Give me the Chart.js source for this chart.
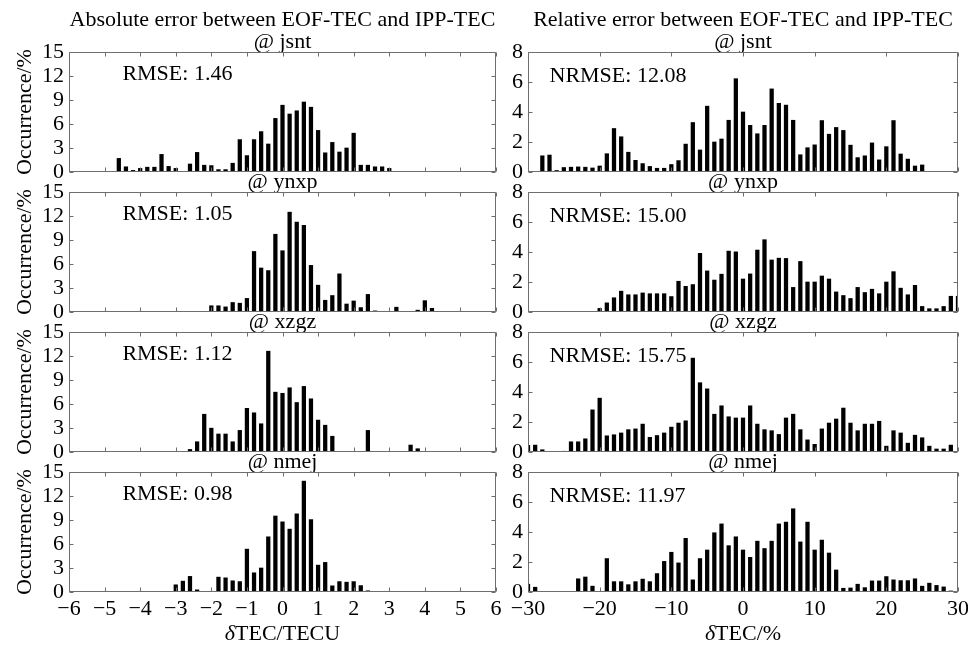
<!DOCTYPE html>
<html>
<head>
<meta charset="utf-8">
<script src="https://cdn.jsdelivr.net/npm/chart.js@4.4.1/dist/chart.umd.min.js"></script>
<style>
html,body{margin:0;padding:0;background:#fff;}
#wrap{position:relative;width:968px;height:650px;overflow:hidden;font-family:"Liberation Serif","Times New Roman",serif;color:#000;}
#wrap canvas{position:absolute;left:0;top:0;}
.lbl{position:absolute;white-space:nowrap;font-size:22px;line-height:24px;transform:translateX(-50%);}
</style>
</head>
<body>
<div id="wrap">
  <div class="lbl" style="left:282.5px;top:7px">Absolute error between EOF-TEC and IPP-TEC</div>
  <div class="lbl" style="left:743px;top:7px">Relative error between EOF-TEC and IPP-TEC</div>
  <div class="lbl" style="left:282.5px;top:621px"><i>δ</i>TEC/TECU</div>
  <div class="lbl" style="left:743px;top:621px"><i>δ</i>TEC/%</div>
</div>
<script>
// ---------- data ----------
const stations = ['jsnt', 'ynxp', 'xzgz', 'nmej'];
const rmseText = ['RMSE: 1.46', 'RMSE: 1.05', 'RMSE: 1.12', 'RMSE: 0.98'];
const nrmseText = ['NRMSE: 12.08', 'NRMSE: 15.00', 'NRMSE: 15.75', 'NRMSE: 11.97'];

// bin centres, absolute error (TECU)
const absBins = [-6,-5.8,-5.6,-5.4,-5.2,-5,-4.8,-4.6,-4.4,-4.2,
                 -4,-3.8,-3.6,-3.4,-3.2,-3,-2.8,-2.6,-2.4,-2.2,
                 -2,-1.8,-1.6,-1.4,-1.2,-1,-0.8,-0.6,-0.4,-0.2,
                 0,0.2,0.4,0.6,0.8,1,1.2,1.4,1.6,1.8,
                 2,2.2,2.4,2.6,2.8,3,3.2,3.4,3.6,3.8,
                 4,4.2,4.4,4.6,4.8,5,5.2,5.4,5.6,5.8,
                 6];
// bin centres, relative error (%)
const relBins = [-30,-29,-28,-27,-26,-25,-24,-23,-22,-21,
                 -20,-19,-18,-17,-16,-15,-14,-13,-12,-11,
                 -10,-9,-8,-7,-6,-5,-4,-3,-2,-1,
                 0,1,2,3,4,5,6,7,8,9,
                 10,11,12,13,14,15,16,17,18,19,
                 20,21,22,23,24,25,26,27,28,29,
                 30];

const jsntAbs = [0,0,0,0,0,0,0,1.7,0.65,0.2,
                 0.45,0.6,0.6,2.2,0.7,0.45,0,1.0,2.45,0.85,
                 0.8,0.3,0.3,1.1,4.05,2.05,4.05,5.05,3.5,6.7,
                 8.35,7.25,7.65,8.75,8.1,5.2,2.4,3.7,2.5,3.0,
                 4.85,0.85,0.85,0.65,0.65,0.45,0,0,0,0,
                 0,0,0,0,0,0,0,0,0,0,
                 0];
const ynxpAbs = [0,0,0,0,0,0,0,0,0,0,
                 0,0,0,0,0,0,0,0,0,0,
                 0.78,0.78,0.64,1.19,1.1,1.7,7.57,5.5,5.18,9.72,
                 7.66,12.48,11.24,10.83,5.83,3.35,1.47,2.06,4.77,1.0,
                 1.38,0.55,2.2,0.14,0,0,0.6,0,0,0.23,
                 1.42,0.46,0,0,0,0,0,0,0,0,
                 0];
const xzgzAbs = [0,0,0,0,0,0,0,0,0,0,
                 0,0,0,0,0,0,0,0.32,1.28,4.72,
                 2.98,2.25,2.25,1.28,2.7,5.46,4.9,3.53,12.6,7.48,
                 7.34,8.03,6.19,8.2,6.65,3.99,3.35,1.97,0,0,
                 0,0,2.7,0,0,0,0,0,0.87,0.41,
                 0,0,0,0,0,0,0,0,0,0,
                 0];
const nmejAbs = [0,0,0,0,0,0,0,0,0,0,
                 0,0,0,0,0,0.9,1.36,1.95,0.27,0,
                 0,1.86,1.77,1.4,1.3,5.36,2.4,3.0,6.9,9.5,
                 8.77,7.86,9.77,13.86,9.05,3.36,3.7,0.77,1.3,1.23,
                 1.3,0.8,0.15,0,0,0,0,0,0,0,
                 0,0,0,0,0,0,0,0,0,0,
                 0];

const jsntRel = [0,0,1.08,1.13,0.1,0.3,0.32,0.34,0.32,0.27,
                 0.4,1.22,2.9,2.35,1.32,0.78,0.56,0.37,0.25,0.25,
                 0.5,0.76,1.86,3.3,1.47,4.39,2.0,2.2,3.45,6.22,
                 4.0,3.11,2.55,3.11,5.54,4.58,4.46,3.45,1.15,1.62,
                 1.81,3.43,2.52,2.97,2.77,1.79,0.96,1.08,1.94,0.81,
                 1.69,3.43,1.2,0.86,0.4,0.47,0,0,0,0,
                 0];
const ynxpRel = [0,0,0,0,0,0,0,0,0,0,
                 0.24,0.61,0.95,1.39,1.15,1.15,1.27,1.22,1.22,1.22,
                 1.03,2.05,1.71,1.83,3.91,2.74,2.13,2.52,4.06,4.01,
                 2.2,2.54,4.13,4.82,3.47,3.59,3.57,1.64,3.37,2.0,
                 2.0,2.4,2.2,1.34,1.1,0.9,1.64,1.3,1.52,1.22,
                 2.0,2.69,1.59,1.15,1.78,0.37,0.22,0.22,0.37,1.05,
                 1.05];
const xzgzRel = [0.44,0.46,0.15,0,0,0.05,0.68,0.68,0.88,2.81,
                 3.59,1.08,1.15,1.27,1.49,1.54,1.86,0.98,1.1,1.27,
                 1.66,1.93,2.08,6.26,4.62,4.21,2.52,3.08,2.35,2.27,
                 2.27,3.08,1.86,1.49,1.42,1.17,2.27,2.52,1.49,0.81,
                 0.51,1.54,1.93,2.2,2.93,1.93,1.42,1.86,1.86,2.05,
                 0.39,1.42,1.27,0.59,1.12,0.95,0.39,0.2,0.2,0.46,
                 0];
const nmejRel = [0.52,0.32,0,0,0,0,0,0.88,1.0,0.39,
                 0,2.23,0.69,0.69,0.49,0.69,0.86,0.69,1.23,2.04,
                 2.65,1.94,3.58,0.81,2.23,2.8,3.95,4.54,3.09,3.68,
                 2.8,2.31,3.39,2.9,3.39,4.54,4.66,5.55,3.34,4.66,
                 2.8,3.46,2.6,1.47,0.25,0.27,0.52,0.29,0.74,0.74,
                 1.03,0.81,0.76,0.76,0.88,0.39,0.59,0.44,0.34,0.07,
                 0];

const absSeries = [jsntAbs, ynxpAbs, xzgzAbs, nmejAbs];
const relSeries = [jsntRel, ynxpRel, xzgzRel, nmejRel];

// ---------- layout ----------
const FONT = "'Liberation Serif','Times New Roman',serif";
const FS = 22;
const TITLE_LH = 0.9;
const rowBottom = [172, 312, 452, 592];
const plotH = 120;
const cols = [{left: 69, right: 496}, {left: 528, right: 958}];

function fmt(v) { return v < 0 ? '\u2212' + Math.abs(v) : String(v); }

const boxPlugin = {
  id: 'mbox',
  afterDatasetsDraw(chart) {
    const {ctx, chartArea: a, scales: {x, y}} = chart;
    const L = Math.round(a.left) + 0.5, R = Math.round(a.right) - 0.5;
    const T = Math.round(a.top) + 0.5, B = Math.round(a.bottom) - 0.5;
    ctx.save();
    ctx.strokeStyle = '#6e6e6e';
    ctx.lineWidth = 1;
    ctx.beginPath();
    ctx.rect(L, T, R - L, B - T);
    const tl = 4;
    x.ticks.forEach(t => {
      const p = Math.round(x.getPixelForValue(t.value)) + 0.5;
      ctx.moveTo(p, B); ctx.lineTo(p, B - tl);
      ctx.moveTo(p, T); ctx.lineTo(p, T + tl);
    });
    y.ticks.forEach(t => {
      const p = Math.round(y.getPixelForValue(t.value)) + 0.5;
      ctx.moveTo(L, p); ctx.lineTo(L + tl, p);
      ctx.moveTo(R, p); ctx.lineTo(R - tl, p);
    });
    ctx.stroke();
    ctx.restore();
  }
};

const notePlugin = {
  id: 'note',
  afterDatasetsDraw(chart, args, o) {
    const {ctx, scales: {x, y}} = chart;
    ctx.save();
    ctx.font = FS + 'px ' + FONT;
    ctx.fillStyle = '#000';
    ctx.textAlign = 'left';
    ctx.textBaseline = 'middle';
    ctx.fillText(o.text, x.getPixelForValue(o.x), y.getPixelForValue(o.y));
    ctx.restore();
  }
};

const wrap = document.getElementById('wrap');

function build(col, row) {
  const isAbs = col === 0;
  const bottomRow = row === 3;
  const canvas = document.createElement('canvas');
  canvas.width = 968; canvas.height = 650;
  canvas.style.width = '968px'; canvas.style.height = '650px';
  wrap.insertBefore(canvas, wrap.firstChild);
  const yW = isAbs ? 55 : 30;
  const xH = bottomRow ? 30 : 0;
  const box = cols[col];
  const top = rowBottom[row] - plotH;
  const bins = isAbs ? absBins : relBins;
  const vals = (isAbs ? absSeries : relSeries)[row];
  const tickFont = {family: FONT, size: FS, lineHeight: 1};
  new Chart(canvas, {
    type: 'bar',
    data: {
      datasets: [{
        data: bins.map((b, i) => ({x: b, y: vals[i]})),
        backgroundColor: '#000',
        borderWidth: 0,
        barThickness: 3.6,
        clip: 0
      }]
    },
    options: {
      responsive: false,
      animation: false,
      devicePixelRatio: 1,
      events: [],
      layout: {padding: {left: box.left - yW, right: 968 - box.right, top: top - FS * TITLE_LH, bottom: 650 - rowBottom[row] - xH}},
      scales: {
        x: {
          type: 'linear',
          min: isAbs ? -6 : -30, max: isAbs ? 6 : 30,
          offset: false,
          grid: {display: false, drawTicks: false},
          border: {display: false},
          ticks: {display: bottomRow, stepSize: isAbs ? 1 : 10, padding: 6, color: '#000', font: tickFont,
                  callback: fmt, maxRotation: 0, autoSkip: false},
          afterFit(s) { s.height = xH; s.paddingLeft = 0; s.paddingRight = 0; }
        },
        y: {
          min: 0, max: isAbs ? 15 : 8,
          grid: {display: false, drawTicks: false},
          border: {display: false},
          ticks: {stepSize: isAbs ? 3 : 2, padding: 5, color: '#000', font: tickFont, callback: fmt, autoSkip: false},
          title: {display: isAbs, text: 'Occurrence/%', color: '#000', font: {family: FONT, size: FS, lineHeight: 1}, padding: 0},
          afterFit(s) { s.width = yW; s.paddingTop = 0; s.paddingBottom = 0; }
        }
      },
      plugins: {
        legend: {display: false},
        tooltip: {enabled: false},
        title: {display: true, text: '@ ' + stations[row], fullSize: false, padding: 0, color: '#000',
                font: {family: FONT, size: FS, weight: 'normal', lineHeight: TITLE_LH}},
        note: isAbs ? {text: rmseText[row], x: -4.5, y: 12.2} : {text: nrmseText[row], x: -27, y: 6.4}
      }
    },
    plugins: [boxPlugin, notePlugin]
  });
}

for (let r = 0; r < 4; r++) { build(0, r); build(1, r); }
</script>
</body>
</html>
